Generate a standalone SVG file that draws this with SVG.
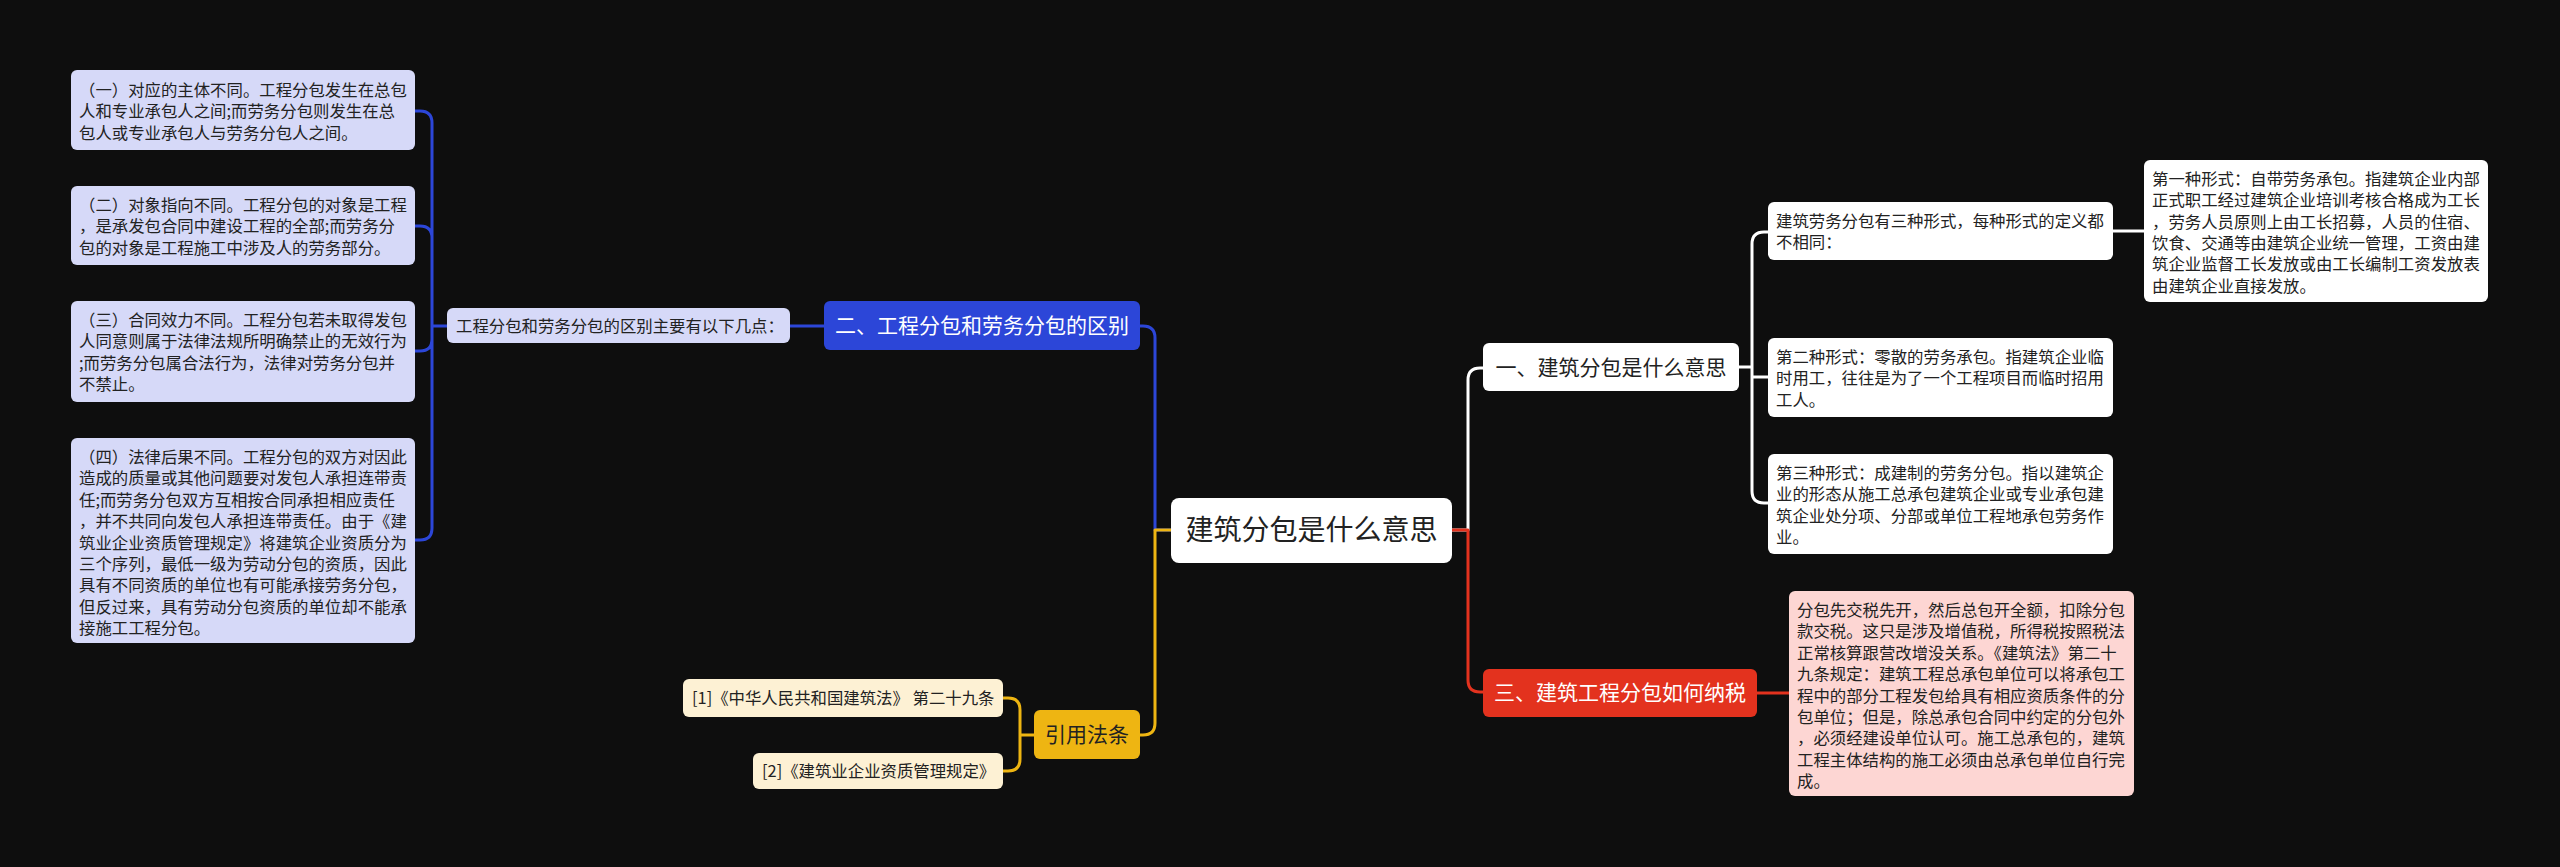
<svg xmlns="http://www.w3.org/2000/svg" width="2560" height="867" viewBox="0 0 2560 867">
<style>
text{font-family:"Noto Sans CJK SC","Noto Sans",sans-serif;}
.t{font-size:16.4px;fill:#222;}
.h{font-size:21px;text-anchor:middle;}
.lav{fill:#d6d9f8;}
.wht{fill:#ffffff;}
.pink{fill:#fdd6d3;}
.cream{fill:#fdf1d4;}
.c{fill:none;stroke-width:3;stroke-linecap:round;stroke-linejoin:round;}
</style>
<rect x="0" y="0" width="2560" height="867" fill="#0e0e0e"/>
<g id="connectors">
<path class="c" stroke="#2c46d8" d="M1171,530 H1155 V338 Q1155,326 1143,326 H1140"/>
<path class="c" stroke="#2c46d8" d="M824,326 H790"/>
<path class="c" stroke="#2c46d8" d="M447,326 H432 M432,326 V123 Q432,111 420,111 H415 M432,326 V238 Q432,226 420,226 H415 M432,326 V339 Q432,351 420,351 H415 M432,326 V528 Q432,540 420,540 H415"/>
<path class="c" stroke="#eeb512" d="M1171,530 H1155 V723 Q1155,735 1143,735 H1140"/>
<path class="c" stroke="#eeb512" d="M1034,735 H1020 M1020,735 V710 Q1020,698 1008,698 H1003 M1020,735 V759 Q1020,771 1008,771 H1003"/>
<path class="c" stroke="#ffffff" d="M1452,530 H1468 V380 Q1468,368 1480,368 H1483"/>
<path class="c" stroke="#e3321e" d="M1452,530 H1468 V680 Q1468,692 1480,692 H1483"/>
<path class="c" stroke="#e3321e" d="M1757,693 H1789"/>
<path class="c" stroke="#ffffff" d="M1739,367 H1752 M1752,367 V244 Q1752,232 1764,232 H1768 M1752,367 V377 H1768 M1752,367 V491 Q1752,503 1764,503 H1768"/>
<path class="c" stroke="#ffffff" d="M2113,231 H2144"/>
</g>
<g id="root">
<rect class="wht" x="1171" y="498" width="281" height="65" rx="8"/>
<text x="1311.5" y="540" style="font-size:28px;text-anchor:middle;fill:#222">建筑分包是什么意思</text>
</g>
<g id="n2">
<rect x="824" y="301" width="316" height="49" rx="6" fill="#2c46d8"/>
<text class="h" x="982" y="333" fill="#ffffff">二、工程分包和劳务分包的区别</text>
</g>
<g id="n2sub">
<rect class="lav" x="447" y="308" width="343" height="35" rx="6"/>
<text class="t" x="456" y="331.5">工程分包和劳务分包的区别主要有以下几点：</text>
</g>
<g id="n2a">
<rect class="lav" x="71" y="70" width="344" height="80" rx="6"/>
<text class="t"><tspan x="79" y="96">（一）对应的主体不同。工程分包发生在总包</tspan><tspan x="79" y="117.3">人和专业承包人之间;而劳务分包则发生在总</tspan><tspan x="79" y="138.6">包人或专业承包人与劳务分包人之间。</tspan></text>
</g>
<g id="n2b">
<rect class="lav" x="71" y="186" width="344" height="79" rx="6"/>
<text class="t"><tspan x="79" y="211">（二）对象指向不同。工程分包的对象是工程</tspan><tspan x="79" y="232.3">，是承发包合同中建设工程的全部;而劳务分</tspan><tspan x="79" y="253.6">包的对象是工程施工中涉及人的劳务部分。</tspan></text>
</g>
<g id="n2c">
<rect class="lav" x="71" y="301" width="344" height="101" rx="6"/>
<text class="t"><tspan x="79" y="326">（三）合同效力不同。工程分包若未取得发包</tspan><tspan x="79" y="347.3">人同意则属于法律法规所明确禁止的无效行为</tspan><tspan x="79" y="368.6">;而劳务分包属合法行为，法律对劳务分包并</tspan><tspan x="79" y="389.9">不禁止。</tspan></text>
</g>
<g id="n2d">
<rect class="lav" x="71" y="438" width="344" height="205" rx="6"/>
<text class="t"><tspan x="79" y="463">（四）法律后果不同。工程分包的双方对因此</tspan><tspan x="79" y="484.4">造成的质量或其他问题要对发包人承担连带责</tspan><tspan x="79" y="505.8">任;而劳务分包双方互相按合同承担相应责任</tspan><tspan x="79" y="527.2">，并不共同向发包人承担连带责任。由于《建</tspan><tspan x="79" y="548.6">筑业企业资质管理规定》将建筑企业资质分为</tspan><tspan x="79" y="570">三个序列，最低一级为劳动分包的资质，因此</tspan><tspan x="79" y="591.4">具有不同资质的单位也有可能承接劳务分包，</tspan><tspan x="79" y="612.8">但反过来，具有劳动分包资质的单位却不能承</tspan><tspan x="79" y="634.2">接施工工程分包。</tspan></text>
</g>
<g id="n4">
<rect x="1034" y="710" width="106" height="49" rx="6" fill="#eeb512"/>
<text class="h" x="1087" y="742" fill="#222">引用法条</text>
</g>
<g id="ref1">
<rect class="cream" x="683" y="679" width="320" height="38" rx="6"/>
<text class="t" x="692" y="704">[1]《中华人民共和国建筑法》 第二十九条</text>
</g>
<g id="ref2">
<rect class="cream" x="753" y="753" width="250" height="36" rx="6"/>
<text class="t" x="762" y="777">[2]《建筑业企业资质管理规定》</text>
</g>
<g id="n1">
<rect class="wht" x="1483" y="343" width="256" height="48" rx="6"/>
<text class="h" x="1611" y="374.5" fill="#222">一、建筑分包是什么意思</text>
</g>
<g id="n1a">
<rect class="wht" x="1768" y="202" width="345" height="58" rx="6"/>
<text class="t"><tspan x="1776" y="227">建筑劳务分包有三种形式，每种形式的定义都</tspan><tspan x="1776" y="248.3">不相同：</tspan></text>
</g>
<g id="n1a1">
<rect class="wht" x="2144" y="160" width="344" height="142" rx="6"/>
<text class="t"><tspan x="2152" y="185">第一种形式：自带劳务承包。指建筑企业内部</tspan><tspan x="2152" y="206.3">正式职工经过建筑企业培训考核合格成为工长</tspan><tspan x="2152" y="227.6">，劳务人员原则上由工长招募，人员的住宿、</tspan><tspan x="2152" y="248.9">饮食、交通等由建筑企业统一管理，工资由建</tspan><tspan x="2152" y="270.2">筑企业监督工长发放或由工长编制工资发放表</tspan><tspan x="2152" y="291.5">由建筑企业直接发放。</tspan></text>
</g>
<g id="n1b">
<rect class="wht" x="1768" y="338" width="345" height="79" rx="6"/>
<text class="t"><tspan x="1776" y="363">第二种形式：零散的劳务承包。指建筑企业临</tspan><tspan x="1776" y="384.3">时用工，往往是为了一个工程项目而临时招用</tspan><tspan x="1776" y="405.6">工人。</tspan></text>
</g>
<g id="n1c">
<rect class="wht" x="1768" y="454" width="345" height="100" rx="6"/>
<text class="t"><tspan x="1776" y="479">第三种形式：成建制的劳务分包。指以建筑企</tspan><tspan x="1776" y="500.3">业的形态从施工总承包建筑企业或专业承包建</tspan><tspan x="1776" y="521.6">筑企业处分项、分部或单位工程地承包劳务作</tspan><tspan x="1776" y="542.9">业。</tspan></text>
</g>
<g id="n3">
<rect x="1483" y="669" width="274" height="48" rx="6" fill="#e3321e"/>
<text class="h" x="1620" y="700" fill="#ffffff">三、建筑工程分包如何纳税</text>
</g>
<g id="n3a">
<rect class="pink" x="1789" y="591" width="345" height="205" rx="6"/>
<text class="t"><tspan x="1797" y="616">分包先交税先开，然后总包开全额，扣除分包</tspan><tspan x="1797" y="637.4">款交税。这只是涉及增值税，所得税按照税法</tspan><tspan x="1797" y="658.8">正常核算跟营改增没关系。《建筑法》第二十</tspan><tspan x="1797" y="680.2">九条规定：建筑工程总承包单位可以将承包工</tspan><tspan x="1797" y="701.6">程中的部分工程发包给具有相应资质条件的分</tspan><tspan x="1797" y="723">包单位；但是，除总承包合同中约定的分包外</tspan><tspan x="1797" y="744.4">，必须经建设单位认可。施工总承包的，建筑</tspan><tspan x="1797" y="765.8">工程主体结构的施工必须由总承包单位自行完</tspan><tspan x="1797" y="787.2">成。</tspan></text>
</g>
</svg>
